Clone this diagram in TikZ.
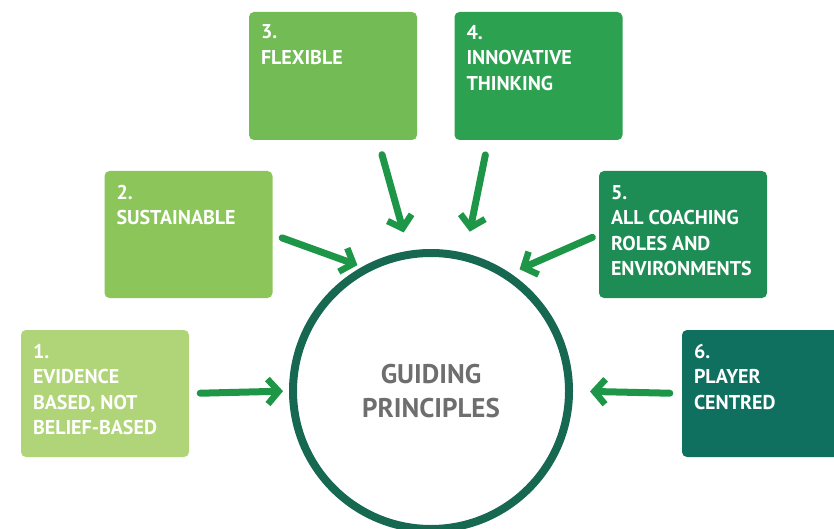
\documentclass[tikz,border=0pt]{standalone}
\usepackage{fontspec}
\setmainfont{PT Sans}
\usepackage{tikz}
\usetikzlibrary{shapes,arrows.meta,positioning}
\definecolor{gone}{RGB}{176,212,120}
\definecolor{gtwo}{RGB}{140,198,90}
\definecolor{gthree}{RGB}{114,187,85}
\definecolor{gfour}{RGB}{44,161,80}
\definecolor{gfive}{RGB}{30,141,85}
\definecolor{gsix}{RGB}{16,112,95}
\definecolor{ringgreen}{RGB}{22,104,80}
\definecolor{arrowgreen}{RGB}{30,150,72}
\definecolor{titlegray}{RGB}{110,110,110}
\tikzstyle{principle}=[rectangle, rounded corners=5pt, minimum width=168pt, minimum height=127pt, inner sep=0pt]
\tikzstyle{principletext}=[anchor=north west, inner sep=0pt, align=left, text=white, font=\fontsize{20}{25.5}\selectfont\bfseries]
\tikzstyle{ring}=[circle, draw=ringgreen, line width=8pt, minimum size=276pt, inner sep=0pt, align=center, text=titlegray, font=\fontsize{27}{34}\selectfont\bfseries]
\tikzstyle{marker}=[-{Straight Barb[length=11pt,width=25pt,line width=6.5pt]}, arrowgreen, line width=7pt, line cap=round]

\begin{document}
\begin{tikzpicture}[x=1pt,y=-1pt]
\useasboundingbox (0,0) rectangle (834,529);
\clip (0,0) rectangle (834,529);

\node[principle, fill=gone](b1) at (105,393.5) {};
\node[principle, fill=gtwo](b2) at (188.5,234.5) {};
\node[principle, fill=gthree, minimum height=128pt](b3) at (333,76) {};
\node[principle, fill=gfour, minimum height=128pt](b4) at (538.5,76) {};
\node[principle, fill=gfive](b5) at (683,234.5) {};
\node[principle, fill=gsix, minimum width=176pt](b6) at (770,393.5) {};

\node[principletext](t1) at ([shift={(12,14)}]b1.north west) {1.\\EVIDENCE\\BASED, NOT\\BELIEF-BASED};
\node[principletext](t2) at ([shift={(12,14)}]b2.north west) {2.\\SUSTAINABLE};
\node[principletext](t3) at ([shift={(12,13)}]b3.north west) {3.\\FLEXIBLE};
\node[principletext](t4) at ([shift={(12,13)}]b4.north west) {4.\\INNOVATIVE\\THINKING};
\node[principletext](t5) at ([shift={(12,14)}]b5.north west) {5.\\ALL COACHING\\ROLES AND\\ENVIRONMENTS};
\node[principletext](t6) at ([shift={(12,14)}]b6.north west) {6.\\PLAYER\\CENTRED};

\node[ring](gp) at (431,391) {GUIDING\\PRINCIPLES};

\draw[marker, shorten <=11pt, shorten >=6pt](b1.east) -- (gp.west);
\draw[marker, shorten <=10pt, shorten >=5pt](b2.east) -- (gp.119);
\draw[marker, shorten <=15pt, shorten >=19pt](b3.-55) -- (gp.99);
\draw[marker, shorten <=15pt, shorten >=22pt](b4.232) -- (gp.76);
\draw[marker, shorten <=7pt, shorten >=10pt](b5.west) -- (gp.56);
\draw[marker, shorten <=12pt, shorten >=17pt](b6.west) -- (gp.east);

\end{tikzpicture}
\end{document}
